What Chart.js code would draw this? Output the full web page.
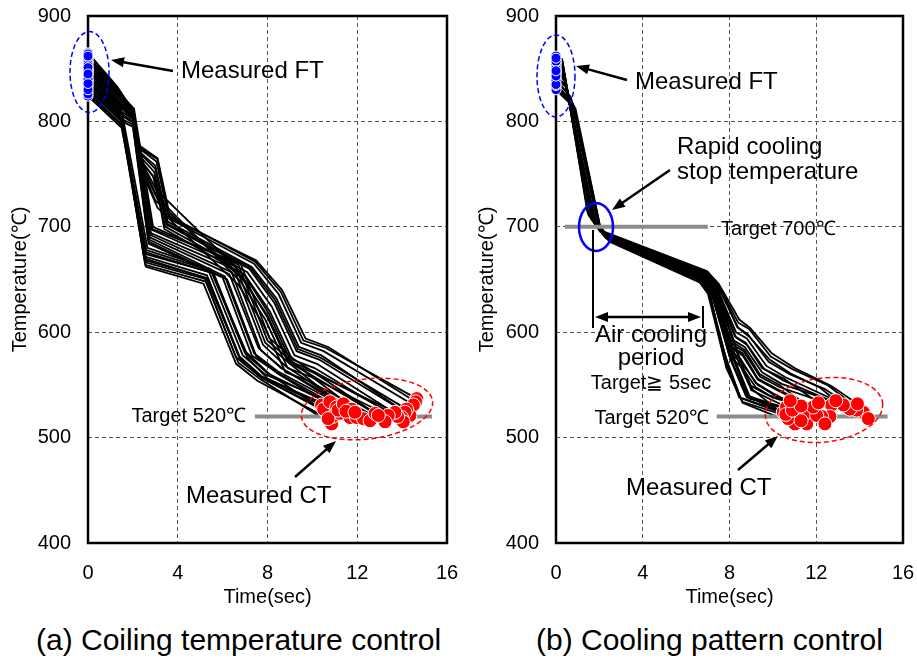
<!DOCTYPE html>
<html>
<head>
<meta charset="utf-8">
<script src="https://cdn.jsdelivr.net/npm/chart.js@4.4.0/dist/chart.umd.min.js"></script>
<style>
  html, body { margin: 0; padding: 0; background: #fff; width: 917px; height: 666px; overflow: hidden; position: relative;
    font-family: "Liberation Sans", Arial, sans-serif; }
  canvas { position: absolute; top: 0; }
  #chartA { left: 0; }
  #chartB { left: 458px; }
  .caption { position: absolute; top: 620px; font-size: 30px; line-height: 40px; white-space: nowrap; color: #000; }
</style>
</head>
<body>
<canvas id="chartA" width="458" height="610"></canvas>
<canvas id="chartB" width="459" height="610"></canvas>
<div class="caption" style="left:36px">(a) Coiling temperature control</div>
<div class="caption" style="left:536px">(b) Cooling pattern control</div>
<script>
// Axis ticks
const timeTicks = [0, 4, 8, 12, 16];
const tempTicks = [400, 500, 600, 700, 800, 900];

// Targets (°C) and the time span of each target bar (sec)
const ctTarget = 520;
const rapidStopTarget = 700;
const ctSpanA = [7.44, 15.33];
const ctSpanB = [7.41, 15.29];
const rapidStopSpanB = [0.41, 7.0];

// (a) Coiling temperature control: cooling histories [time, temperature]
const coilingRuns = [
  [[0,838],[1.45,806],[2.55,664],[5.25,648],[6.7,571],[7.7,555],[10.86,513]],
  [[0,832],[1.5,800],[2.6,666],[5.3,650],[6.8,574],[7.8,556],[10.63,524]],
  [[0,845],[1.45,812],[2.5,670],[5.2,652],[6.6,576],[7.6,559],[10.41,531]],
  [[0,828],[1.5,797],[2.6,668],[5.35,651],[6.75,575],[7.7,557],[10.5,527]],
  [[0,850],[1.4,818],[2.55,676],[5.4,657],[6.9,578],[7.9,560],[10.78,534]],
  [[0,836],[1.45,805],[2.6,678],[5.5,658],[7.0,580],[8.0,561],[11.08,529]],
  [[0,842],[1.5,810],[2.65,680],[5.45,660],[7.05,581],[8.1,560],[10.9,520]],
  [[0,824],[1.5,794],[2.6,674],[5.6,656],[7.1,576],[8.0,556],[11.23,523]],
  [[0,826],[1.5,796],[2.58,662],[5.15,646],[6.6,570],[7.55,554],[10.7,518]],
  [[0,848],[1.42,815],[2.5,672],[5.3,654],[6.75,577],[7.75,558],[11.15,526]],
  [[0,848],[1.4,817],[2.0,805],[2.75,690],[6.3,655],[7.6,585],[8.6,566],[11.38,532]],
  [[0,856],[1.35,826],[2.0,810],[2.8,694],[6.5,660],[7.8,588],[8.8,568],[11.75,527]],
  [[0,834],[1.45,803],[2.0,797],[2.7,686],[6.2,650],[7.5,577],[8.5,560],[11.68,519]],
  [[0,852],[1.4,822],[2.05,808],[2.85,697],[6.6,662],[7.9,590],[9.0,570],[11.97,519]],
  [[0,830],[1.5,800],[2.0,795],[2.7,684],[6.0,652],[7.3,578],[8.4,562],[11.5,525]],
  [[0,844],[1.4,814],[2.0,803],[2.8,692],[6.4,657],[7.7,583],[8.7,565],[12.27,518]],
  [[0,858],[1.35,828],[2.05,812],[2.9,700],[6.7,664],[8.0,592],[9.1,572],[12.57,516]],
  [[0,839],[1.45,808],[2.0,800],[2.72,688],[6.1,653],[7.4,580],[8.45,563],[11.9,524]],
  [[0,860],[1.3,830],[2.0,812],[2.85,698],[6.8,665],[8.1,594],[9.2,574],[12.8,523]],
  [[0,865],[1.3,833],[1.95,812],[2.3,777],[3.1,765],[3.65,710],[7.45,667],[8.6,638],[9.6,592],[10.6,585],[14.65,537]],
  [[0,864],[1.3,832],[1.95,811],[2.3,775],[3.1,764],[3.62,709],[7.5,668],[8.65,640],[9.7,594],[10.7,586],[14.6,534]],
  [[0,861],[1.3,830],[1.95,810],[2.3,774],[3.05,762],[3.6,708],[7.4,665],[8.5,636],[9.5,590],[10.5,582],[14.5,531]],
  [[0,857],[1.35,827],[2.0,808],[2.35,770],[3.0,758],[3.55,705],[7.3,662],[8.4,632],[9.4,586],[10.4,578],[14.35,521]],
  [[0,855],[1.35,825],[2.0,807],[2.4,768],[3.0,755],[3.52,703],[7.25,661],[8.35,630],[9.35,584],[10.35,576],[14.2,527]],
  [[0,853],[1.35,824],[2.0,807],[2.4,765],[2.95,752],[3.5,702],[7.2,660],[8.3,628],[9.3,582],[10.3,574],[14.13,524]],
  [[0,847],[1.4,817],[2.0,805],[2.45,760],[2.9,748],[3.45,700],[7.1,657],[8.2,624],[9.2,578],[10.2,570],[13.98,519]],
  [[0,862],[1.3,831],[2.0,811],[2.4,762],[3.0,745],[3.4,698],[7.0,654],[8.1,620],[9.1,574],[10.1,566],[14.05,515]],
  [[0,849],[1.4,818],[2.0,806],[2.5,757],[3.05,735],[7.0,653],[8.05,618],[9.05,572],[10.05,563],[13.8,520]],
  [[0,840],[1.45,810],[2.0,802],[2.5,752],[3.2,722],[6.9,650],[8.0,616],[9.0,570],[10.0,562],[13.68,524]],
  [[0,851],[1.4,820],[2.0,806],[2.5,755],[3.1,728],[6.8,648],[7.9,612],[8.9,566],[9.9,558],[13.38,521]],
  [[0,836],[1.45,806],[2.0,799],[2.55,745],[3.1,718],[6.7,645],[7.8,608],[8.8,562],[9.8,554],[13.24,515]],
  [[0,845],[1.4,815],[2.0,804],[2.5,750],[3.0,725],[6.9,652],[8.0,614],[8.9,572],[9.9,560],[12.94,521]]
];

// (b) Cooling pattern control: cooling histories [time, temperature]
const patternRuns = [
  [[0,832],[0.8,815],[2.0,702],[2.45,688],[6.6,648],[7.05,636],[7.8,578],[8.5,538],[10.48,524]],
  [[0,836],[0.75,818],[1.98,700],[2.45,686],[6.65,647],[7.1,634],[7.9,570],[8.6,533],[11.02,513]],
  [[0,861],[0.3,857],[1.5,711],[2.05,695],[6.8,652],[7.25,640],[8.1,578],[8.85,540],[10.87,521]],
  [[0,858],[0.3,854],[1.68,708],[2.15,693],[6.7,650],[7.15,638],[8.1,572],[8.8,538],[11.17,524]],
  [[0,849],[0.35,844],[1.78,704],[2.25,691],[6.85,653],[7.3,641],[8.2,576],[8.95,538],[11.56,513]],
  [[0,853],[0.32,849],[1.7,707],[2.2,692],[6.9,655],[7.4,643],[8.3,585],[9.0,545],[10.63,529]],
  [[0,843],[0.45,834],[1.85,702],[2.35,690],[6.75,651],[7.2,638],[8.15,570],[8.9,537],[11.48,523]],
  [[0,830],[0.9,812],[2.05,699],[2.5,687],[6.9,654],[7.4,642],[8.3,583],[9.05,546],[10.7,518]],
  [[0,846],[0.4,840],[1.8,703],[2.3,689],[6.6,649],[7.0,637],[7.75,575],[8.45,538],[10.6,522]],
  [[0,840],[0.7,822],[1.95,701],[2.45,688],[6.7,650],[7.1,637],[7.85,566],[8.6,534],[11.3,516]],
  [[0,855],[0.3,851],[1.65,709],[2.12,694],[6.75,651],[7.2,639],[8.05,574],[8.75,540],[10.9,526]],
  [[0,862],[0.28,859],[1.45,714],[2.0,697],[6.95,658],[7.45,646],[8.4,609],[8.9,603],[9.9,577],[10.9,565],[12.5,550],[14.17,524]],
  [[0,856],[0.3,852],[1.66,708],[2.15,695],[7.0,656],[7.5,645],[8.35,605],[8.85,598],[9.8,572],[10.8,560],[12.4,546],[14.4,518]],
  [[0,851],[0.33,847],[1.72,706],[2.24,693],[6.95,655],[7.4,643],[8.3,600],[8.8,594],[9.7,568],[10.6,557],[13.86,526]],
  [[0,847],[0.38,842],[1.76,705],[2.25,692],[6.85,654],[7.35,642],[8.25,596],[8.75,590],[9.6,565],[10.5,554],[13.55,527]],
  [[0,841],[0.48,832],[1.83,703],[2.32,690],[6.8,652],[7.3,640],[8.2,592],[8.7,586],[9.5,562],[10.4,551],[13.25,531]],
  [[0,834],[0.8,816],[2.0,702],[2.42,689],[6.75,650],[7.25,638],[8.15,588],[8.65,582],[9.4,558],[10.3,548],[12.71,531]],
  [[0,845],[0.4,839],[1.78,704],[2.25,691],[6.7,649],[7.2,637],[8.1,585],[8.6,578],[9.3,555],[10.2,545],[12.63,520]],
  [[0,859],[0.3,855],[1.62,709],[2.1,695],[6.85,655],[7.35,643],[8.2,590],[8.7,583],[9.4,560],[10.3,550],[12.25,520]],
  [[0,839],[0.65,824],[1.93,703],[2.4,689],[6.7,648],[7.2,636],[8.0,583],[8.5,575],[9.2,552],[10.0,542],[12.02,521]],
  [[0,854],[0.32,850],[1.68,707],[2.16,694],[6.8,653],[7.3,641],[8.1,586],[8.6,580],[9.3,556],[10.2,546],[11.86,529]],
  [[0,850],[0.35,845],[1.74,705],[2.22,692],[6.75,651],[7.25,639],[8.05,580],[8.6,570],[9.3,550],[10.1,540],[12.4,513]],
  [[0,835],[0.85,814],[2.02,701],[2.46,687],[6.7,647],[7.2,635],[8.0,577],[8.6,566],[9.2,548],[10.0,538],[11.3,530]],
  [[0,843],[0.45,835],[1.82,703],[2.3,690],[6.9,656],[7.4,644],[8.3,595],[8.8,588],[9.5,566],[10.5,556],[12.1,533]],
  [[0,857],[0.3,853],[1.64,707],[2.12,694],[6.85,654],[7.35,642],[8.15,584],[8.9,550],[9.8,540],[10.8,535]],
  [[0,860],[0.28,857],[1.48,713],[2.04,696],[7.0,657],[7.5,646],[8.45,612],[8.95,604],[9.95,580],[11.0,566],[12.7,549],[13.9,532]],
  [[0,848],[0.36,843],[1.74,705],[2.22,692],[6.95,656],[7.45,644],[8.4,604],[8.9,596],[9.85,574],[10.8,561],[12.2,547],[12.9,535]]
];

const FONT = '"Liberation Sans", Arial, sans-serif';
Chart.defaults.font.family = FONT;
Chart.defaults.color = '#000';

const toXY = run => run.map(([t, T]) => ({ x: t, y: T }));

function buildDatasets(runs, targets) {
  const sets = [];
  runs.forEach(run => sets.push({
    data: toXY(run), showLine: true, borderColor: '#000', borderWidth: 1.8,
    pointRadius: 0, order: 3, clip: false
  }));
  targets.forEach(([span, level]) => sets.push({
    data: [{ x: span[0], y: level }, { x: span[1], y: level }], showLine: true,
    borderColor: '#8c8c8c', borderWidth: 4, pointRadius: 0, order: 2, clip: false
  }));
  // finishing temperature (first point) and coiling temperature (last point)
  sets.push({
    data: runs.map(r => ({ x: r[0][0], y: r[0][1] })), showLine: false,
    pointRadius: 5, pointBackgroundColor: '#0000ff', pointBorderColor: '#fff', pointBorderWidth: 1,
    order: 1, clip: false
  });
  sets.push({
    data: runs.map(r => ({ x: r[r.length - 1][0], y: r[r.length - 1][1] })), showLine: false,
    pointRadius: 7, pointBackgroundColor: '#ff0000', pointBorderColor: '#fff', pointBorderWidth: 1,
    order: 0, clip: false
  });
  return sets;
}

function ellipse(ctx, cx, cy, rx, ry, rot, color, width, dash) {
  ctx.save();
  ctx.strokeStyle = color; ctx.lineWidth = width; ctx.setLineDash(dash);
  ctx.beginPath(); ctx.ellipse(cx, cy, rx, ry, rot, 0, Math.PI * 2); ctx.stroke();
  ctx.restore();
}

function head(ctx, x1, y1, x2, y2) {
  const a = Math.atan2(y2 - y1, x2 - x1), L = 13, W = 5;
  ctx.beginPath();
  ctx.moveTo(x2, y2);
  ctx.lineTo(x2 - L * Math.cos(a) + W * Math.sin(a), y2 - L * Math.sin(a) - W * Math.cos(a));
  ctx.lineTo(x2 - L * Math.cos(a) - W * Math.sin(a), y2 - L * Math.sin(a) + W * Math.cos(a));
  ctx.closePath(); ctx.fill();
}

function arrow(ctx, x1, y1, x2, y2, both) {
  ctx.save();
  ctx.strokeStyle = '#000'; ctx.fillStyle = '#000'; ctx.lineWidth = 2.5; ctx.setLineDash([]);
  const a = Math.atan2(y2 - y1, x2 - x1);
  const s = both ? 10 : 0;
  ctx.beginPath();
  ctx.moveTo(x1 + s * Math.cos(a), y1 + s * Math.sin(a));
  ctx.lineTo(x2 - 10 * Math.cos(a), y2 - 10 * Math.sin(a));
  ctx.stroke();
  head(ctx, x1, y1, x2, y2);
  if (both) head(ctx, x2, y2, x1, y1);
  ctx.restore();
}

function text(ctx, str, x, y, size, align) {
  ctx.save();
  ctx.fillStyle = '#000'; ctx.font = size + 'px ' + FONT;
  ctx.textAlign = align || 'left'; ctx.textBaseline = 'middle';
  ctx.fillText(str, x, y);
  ctx.restore();
}

function vline(ctx, x, y1, y2) {
  ctx.save(); ctx.strokeStyle = '#000'; ctx.lineWidth = 2;
  ctx.beginPath(); ctx.moveTo(x, y1); ctx.lineTo(x, y2); ctx.stroke(); ctx.restore();
}

const framePlugin = {
  id: 'plotFrame',
  beforeDatasetsDraw(chart) {
    const { ctx, chartArea: a } = chart;
    ctx.save();
    ctx.strokeStyle = '#000'; ctx.lineWidth = 2.5;
    ctx.strokeRect(a.left, a.top, a.right - a.left, a.bottom - a.top);
    ctx.restore();
  }
};

function makeOptions(yAxisWidth, yTitlePad, padRight) {
  return {
    responsive: false, animation: false, devicePixelRatio: 1,
    layout: { padding: { left: 0, top: 16, right: padRight, bottom: 0 } },
    plugins: { legend: { display: false }, tooltip: { enabled: false } },
    scales: {
      x: {
        type: 'linear', min: 0, max: 16,
        afterBuildTicks: s => { s.ticks = timeTicks.map(v => ({ value: v })); },
        afterFit: s => { s.height = 67; s.paddingLeft = 0; s.paddingRight = 0; },
        ticks: { font: { size: 20 }, padding: 18, maxRotation: 0 },
        grid: { color: '#555', lineWidth: 1, drawTicks: false },
        border: { display: false, dash: [4, 3] },
        title: { display: true, text: 'Time(sec)', font: { size: 20 }, padding: { top: 0, bottom: 1 } }
      },
      y: {
        type: 'linear', min: 400, max: 900,
        afterBuildTicks: s => { s.ticks = tempTicks.map(v => ({ value: v })); },
        afterFit: s => { s.width = yAxisWidth; s.paddingTop = 0; s.paddingBottom = 0; },
        ticks: { font: { size: 20 }, padding: 17 },
        grid: { color: '#555', lineWidth: 1, drawTicks: false },
        border: { display: false, dash: [4, 3] },
        title: { display: true, text: 'Temperature(\u2103)', font: { size: 20 }, padding: { top: yTitlePad, bottom: 0 } }
      }
    }
  };
}

// (a) Coiling temperature control
new Chart(document.getElementById('chartA'), {
  type: 'scatter',
  data: { datasets: buildDatasets(coilingRuns, [[ctSpanA, ctTarget]]) },
  options: makeOptions(88, 8, 11),
  plugins: [framePlugin, {
    id: 'notesA',
    afterDatasetsDraw(chart) {
      const ctx = chart.ctx;
      ellipse(ctx, 89.5, 72, 19.5, 40.5, 0, '#0000ff', 1.5, [5, 3]);
      arrow(ctx, 173, 71, 111, 60);
      text(ctx, 'Measured FT', 181, 71, 24);
      text(ctx, 'Target 520\u2103', 246, 416, 20, 'right');
      ellipse(ctx, 367, 409, 66, 30, -0.12, '#ff0000', 1.5, [5, 3]);
      arrow(ctx, 295, 477, 336, 441);
      text(ctx, 'Measured CT', 186, 496, 24);
    }
  }]
});

// (b) Cooling pattern control
new Chart(document.getElementById('chartB'), {
  type: 'scatter',
  data: { datasets: buildDatasets(patternRuns, [[ctSpanB, ctTarget], [rapidStopSpanB, rapidStopTarget]]) },
  options: makeOptions(98, 17, 14),
  plugins: [framePlugin, {
    id: 'notesB',
    afterDatasetsDraw(chart) {
      const ctx = chart.ctx;
      ellipse(ctx, 98, 76, 19, 41, 0, '#0000ff', 1.5, [5, 3]);
      arrow(ctx, 169, 80, 118, 66);
      text(ctx, 'Measured FT', 177, 82, 24);
      text(ctx, 'Rapid cooling', 219, 147, 24);
      text(ctx, 'stop temperature', 219, 172, 24);
      arrow(ctx, 212, 170, 154, 210);
      ellipse(ctx, 138, 227, 17, 24, 0, '#0000ff', 2.5, []);
      text(ctx, 'Target 700\u2103', 263, 229, 20);
      vline(ctx, 135, 230, 328);
      vline(ctx, 245, 306, 328);
      arrow(ctx, 137, 317, 243, 317, true);
      text(ctx, 'Air cooling', 193, 335, 24, 'center');
      text(ctx, 'period', 193, 358, 24, 'center');
      text(ctx, 'Target\u2267 5sec', 193, 383, 20, 'center');
      text(ctx, 'Target 520\u2103', 251, 418, 20, 'right');
      ellipse(ctx, 366, 410, 59, 32, -0.12, '#ff0000', 1.5, [5, 3]);
      arrow(ctx, 280, 470, 320, 436);
      text(ctx, 'Measured CT', 168, 488, 24);
    }
  }]
});
</script>
</body>
</html>
